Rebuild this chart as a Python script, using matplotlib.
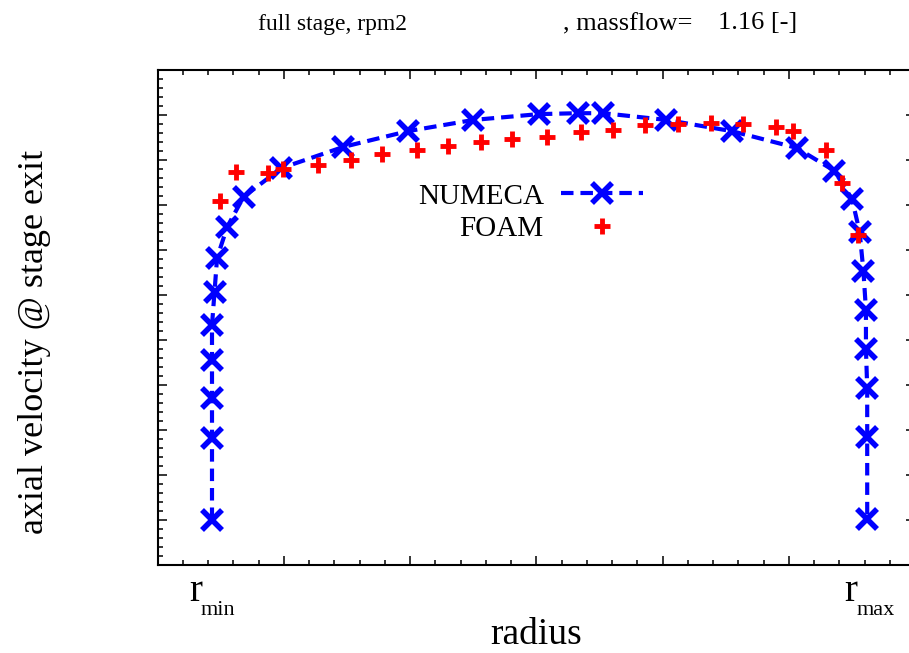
import matplotlib
matplotlib.use("Agg")
import matplotlib.pyplot as plt
from matplotlib.ticker import MultipleLocator, NullFormatter
from matplotlib import transforms

plt.rcParams["font.family"] = ["Liberation Serif", "DejaVu Serif"]
plt.rcParams["lines.scale_dashes"] = False

# radius in tick units (r_min ~ 0.43, r_max ~ 5.62), velocity in tick units
numeca_r = [0.43, 0.43, 0.43, 0.43, 0.43, 0.45, 0.47, 0.55, 0.68, 0.98, 1.47, 1.98, 2.50, 3.02,
            3.33, 3.53, 4.03, 4.55, 5.06, 5.36, 5.50, 5.56, 5.59, 5.61, 5.61, 5.62, 5.62, 5.62]
numeca_u = [1.00, 2.82, 3.71, 4.56, 5.33, 6.07, 6.82, 7.51, 8.18, 8.82, 9.29, 9.64, 9.89, 10.02,
            10.04, 10.04, 9.89, 9.64, 9.27, 8.76, 8.13, 7.40, 6.53, 5.67, 4.80, 3.93, 2.84, 1.02]

foam_r = [0.49, 0.62, 0.87, 0.99, 1.27, 1.53, 1.78, 2.05, 2.30, 2.56, 2.81, 3.08, 3.35, 3.61,
          3.86, 4.12, 4.38, 4.64, 4.90, 5.03, 5.29, 5.42, 5.55]
foam_u = [8.09, 8.73, 8.71, 8.80, 8.89, 9.00, 9.13, 9.22, 9.31, 9.40, 9.47, 9.51, 9.62, 9.67,
          9.78, 9.80, 9.82, 9.80, 9.73, 9.64, 9.22, 8.49, 7.33]

r_min, r_max = 0.43, 5.62
title_parts = ["full stage, rpm2", ", massflow=", "1.16 [-]"]

fig = plt.figure(figsize=(9.09, 6.53), dpi=100)
ax = fig.add_axes([0.1735, 0.1348, 0.8333, 0.758])

ax.plot(numeca_r, numeca_u, color="blue", lw=3, dashes=(9, 5), marker="x",
        ms=14, mew=4, label="NUMECA")
ax.plot(foam_r, foam_u, ls="none", color="red", marker="+", ms=11, mew=3.5,
        label="FOAM")

ax.set_xlim(0, 6)
ax.set_ylim(0, 11)
ax.xaxis.set_major_locator(MultipleLocator(1))
ax.xaxis.set_minor_locator(MultipleLocator(0.2))
ax.yaxis.set_major_locator(MultipleLocator(1))
ax.yaxis.set_minor_locator(MultipleLocator(0.2))
ax.xaxis.set_major_formatter(NullFormatter())
ax.yaxis.set_major_formatter(NullFormatter())
ax.tick_params(which="both", direction="in", top=True, right=True, width=1.1)
ax.tick_params(which="major", length=6.5)
ax.tick_params(which="minor", length=3.6)
for s in ax.spines.values():
    s.set_linewidth(1.5)

# r_min / r_max labels under the axis
trans = transforms.blended_transform_factory(ax.transData, ax.transAxes)
for xv, sub in [(r_min, "min"), (r_max, "max")]:
    t = transforms.offset_copy(trans, fig=fig, x=-23, y=0, units="dots")
    ax.text(xv, -0.072, "r", transform=t, fontsize=28, ha="left", va="baseline")
    t2 = transforms.offset_copy(trans, fig=fig, x=-11, y=0, units="dots")
    ax.text(xv, -0.102, sub, transform=t2, fontsize=16, ha="left", va="baseline")

ax.set_xlabel("radius", fontsize=27, labelpad=34)
fig.text(35 / 909, 1 - 342 / 653, "axial velocity @ stage exit", rotation=90,
         fontsize=26, ha="center", va="center")

fig.text(258 / 909, 1 - 30 / 653, title_parts[0], fontsize=17, va="baseline")
fig.text(563 / 909, 1 - 30 / 653, title_parts[1], fontsize=19, va="baseline")
fig.text(718 / 909, 1 - 29 / 653, title_parts[2], fontsize=19, va="baseline")

ax.legend(loc="center", bbox_to_anchor=(0.492, 0.712), frameon=False,
          markerfirst=False, fontsize=21, labelspacing=0.2, handlelength=2.8,
          handletextpad=0.6, borderpad=0, numpoints=1)

fig.savefig("out.png", dpi=100)
